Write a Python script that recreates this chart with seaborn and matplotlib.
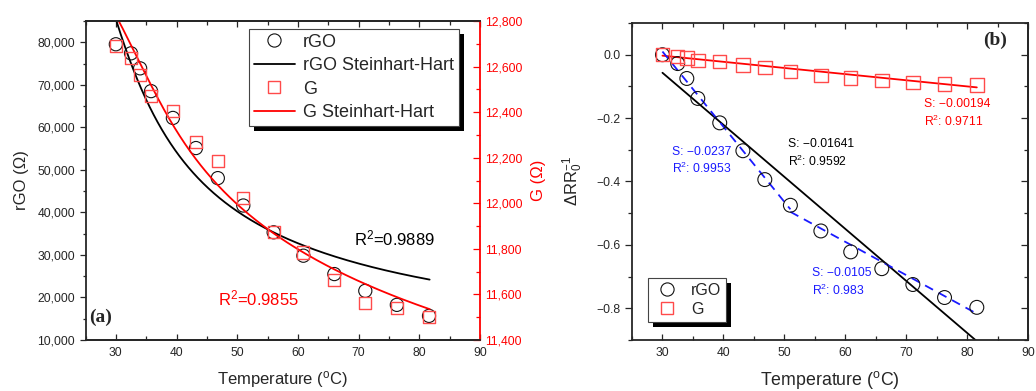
import numpy as np
import pandas as pd
import matplotlib
matplotlib.use("Agg")
import matplotlib.pyplot as plt
import seaborn as sns
from matplotlib.lines import Line2D
from matplotlib.patches import Rectangle
from matplotlib.ticker import MultipleLocator, FuncFormatter

# ---------------- data ----------------
temp_c = [30.0, 32.5, 34.0, 35.8, 39.4, 43.2, 46.8, 51.0, 56.0, 60.9, 66.0, 71.1, 76.3, 81.6]
rgo_ohm = [79530, 77400, 73870, 68510, 62210, 55130, 48060, 41620, 35320, 29820, 25500, 21560, 18260, 15670]
g_ohm = [12691, 12636, 12562, 12471, 12405, 12269, 12185, 12022, 11872, 11784, 11664, 11564, 11542, 11502]
rgo_drr0 = [0.0, -0.028, -0.075, -0.138, -0.215, -0.303, -0.394, -0.475, -0.556, -0.622, -0.675, -0.725, -0.766, -0.797]
g_drr0 = [0.0, -0.005, -0.010, -0.019, -0.022, -0.032, -0.040, -0.053, -0.066, -0.073, -0.081, -0.087, -0.092, -0.095]

# Steinhart-Hart type fits: 1/T[K] = sum c_k (ln R - ref)^k
rgo_sh_coef = [3.130666e-3, 0.351854e-3, -0.210735e-3, 0.09902e-3]
rgo_sh_ref = 10.7
rgo_sh_range = [24200, 86000]
g_sh_coef = [3.128464e-3, 4.077124e-3, -39.33166e-3, 323.24e-3]
g_sh_ref = 9.4
g_sh_range = [11535, 12810]

# linear fits in (b): slope, intercept, x start, x end
g_fit = [-0.00194, 0.0552, 30.0, 81.6]
rgo_fit = [-0.01641, 0.4353, 30.0, 81.6]
rgo_fit_lo = [-0.0237, 0.721, 30.0, 51.0]
rgo_fit_hi = [-0.0105, 0.0398, 51.0, 81.6]

r2_labels_a = ["R$^{\\mathregular{2}}$=0.9889", "R$^{\\mathregular{2}}$=0.9855"]

# ---------------- style ----------------
sns.set_style("ticks")
plt.rcParams["font.family"] = ["Liberation Sans", "DejaVu Sans"]
plt.rcParams["mathtext.fontset"] = "custom"
plt.rcParams["mathtext.rm"] = "Liberation Sans"
plt.rcParams["mathtext.it"] = "Liberation Sans:italic"
plt.rcParams["axes.linewidth"] = 1.3

RED = "#ff0000"
SQ = "#ff4a4a"
BLUE = "#1a1aff"

W, H = 1036, 391
fig = plt.figure(figsize=(W / 100, H / 100), dpi=100)
ax1 = fig.add_axes([85.5 / W, 1 - 340 / H, (480 - 85.5) / W, (340 - 21) / H])
ax1r = ax1.twinx()
ax2 = fig.add_axes([632 / W, 1 - 340 / H, (1028 - 632) / W, (340 - 23) / H])


def sh_curve(coef, ref, rng):
    r = np.geomspace(rng[0], rng[1], 400)
    u = np.log(r) - ref
    inv_t = sum(c * u ** k for k, c in enumerate(coef))
    return 1.0 / inv_t - 273.15, r


# ---------------- panel (a) ----------------
ta, ra = sh_curve(rgo_sh_coef, rgo_sh_ref, rgo_sh_range)
tg, rg = sh_curve(g_sh_coef, g_sh_ref, g_sh_range)
sns.lineplot(x=ta, y=ra, ax=ax1, color="black", lw=1.3, sort=False, estimator=None)
sns.scatterplot(x=temp_c, y=rgo_ohm, ax=ax1, marker="o", s=90, facecolor="none",
                edgecolor="#111111", linewidth=0.8, zorder=3)
sns.lineplot(x=tg, y=rg, ax=ax1r, color=RED, lw=1.3, sort=False, estimator=None)
sns.scatterplot(x=temp_c, y=g_ohm, ax=ax1r, marker="s", s=75, facecolor="none",
                edgecolor=SQ, linewidth=1.0, zorder=3)

ax1.set_xlim(25, 90)
ax1.set_ylim(10000, 85000)
ax1r.set_ylim(11400, 12800)
ax1.xaxis.set_major_locator(MultipleLocator(10))
ax1.xaxis.set_minor_locator(MultipleLocator(5))
ax1.yaxis.set_major_locator(MultipleLocator(10000))
ax1.yaxis.set_minor_locator(MultipleLocator(5000))
ax1r.yaxis.set_major_locator(MultipleLocator(200))
ax1r.yaxis.set_minor_locator(MultipleLocator(100))
comma = FuncFormatter(lambda v, p: f"{v:,.0f}")
ax1.yaxis.set_major_formatter(comma)
ax1r.yaxis.set_major_formatter(comma)

ax1.tick_params(axis="x", which="both", direction="in", top=True, labelsize=8.7, width=0.9, pad=5)
ax1.tick_params(axis="x", which="major", length=4)
ax1.tick_params(axis="x", which="minor", length=3)
ax1.tick_params(axis="y", which="both", direction="out", labelsize=8.7, width=0.9, right=False)
ax1.tick_params(axis="y", which="major", length=4)
ax1.tick_params(axis="y", which="minor", length=2.5)
ax1r.tick_params(axis="y", which="both", direction="in", colors=RED, labelsize=8.7, width=0.9)
ax1r.tick_params(axis="y", which="major", length=5)
ax1r.tick_params(axis="y", which="minor", length=3)
ax1r.spines["right"].set_color(RED)
ax1.spines["right"].set_visible(False)
ax1r.spines["left"].set_visible(False)

ax1.set_xlabel("Temperature ($^{\\mathregular{o}}$C)", fontsize=12, labelpad=7)
ax1.set_ylabel("rGO (\u03a9)", fontsize=12, labelpad=6)
ax1r.set_ylabel("G (\u03a9)", fontsize=12, color=RED, labelpad=6)

ax1.text(69.2, 33830, r2_labels_a[0], fontsize=12, color="black", va="center", ha="left")
ax1.text(46.9, 19700, r2_labels_a[1], fontsize=12, color=RED, va="center", ha="left")
ax1.text(0.009, 0.072, "(a)", transform=ax1.transAxes, fontsize=14, fontweight="bold",
         family="Liberation Serif", va="center", ha="left")

handles_a = [
    Line2D([], [], marker="o", ls="none", mfc="none", mec="#111111", ms=9.5, mew=0.8),
    Line2D([], [], color="black", lw=1.3),
    Line2D([], [], marker="s", ls="none", mfc="none", mec=SQ, ms=9, mew=1.0),
    Line2D([], [], color=RED, lw=1.3),
]
leg_a = ax1r.legend(handles_a, ["rGO", "rGO Steinhart-Hart", "G", "G Steinhart-Hart"],
                    loc="upper left", bbox_to_anchor=(249 / W, 1 - 29 / H),
                    bbox_transform=fig.transFigure, borderaxespad=0, fontsize=13,
                    frameon=True, fancybox=False, framealpha=1, edgecolor="#444444",
                    handlelength=2.3, handletextpad=0.45, labelspacing=0.36, borderpad=0.25)
leg_a.get_frame().set_linewidth(0.8)

# ---------------- panel (b) ----------------
sns.scatterplot(x=temp_c, y=rgo_drr0, ax=ax2, marker="o", s=100, facecolor="none",
                edgecolor="#111111", linewidth=0.8, zorder=3)
sns.scatterplot(x=temp_c, y=g_drr0, ax=ax2, marker="s", s=95, facecolor="none",
                edgecolor=SQ, linewidth=1.0, zorder=3)


def lin(fit):
    x = np.linspace(fit[2], fit[3], 50)
    return x, fit[0] * x + fit[1]


x, y = lin(rgo_fit)
sns.lineplot(x=x, y=y, ax=ax2, color="black", lw=1.3, sort=False, estimator=None)
x, y = lin(g_fit)
sns.lineplot(x=x, y=y, ax=ax2, color=RED, lw=1.3, sort=False, estimator=None)
for f in (rgo_fit_lo, rgo_fit_hi):
    x, y = lin(f)
    sns.lineplot(x=x, y=y, ax=ax2, color=BLUE, lw=1.3, sort=False, estimator=None,
                 dashes=False, linestyle=(0, (5, 3.5)))

ax2.set_xlim(25, 90)
ax2.set_ylim(-0.9, 0.1)
ax2.xaxis.set_major_locator(MultipleLocator(10))
ax2.xaxis.set_minor_locator(MultipleLocator(5))
ax2.yaxis.set_major_locator(MultipleLocator(0.2))
ax2.yaxis.set_minor_locator(MultipleLocator(0.1))
ax2.yaxis.set_major_formatter(FuncFormatter(lambda v, p: f"{v:.1f}".replace("-", "\u2212") if abs(v) > 1e-9 else "0.0"))
ax2.tick_params(axis="x", which="both", direction="in", top=True, labelsize=8.7, width=0.9, pad=5)
ax2.tick_params(axis="x", which="major", length=4)
ax2.tick_params(axis="x", which="minor", length=3)
ax2.tick_params(axis="y", which="both", direction="out", labelsize=8.7, width=0.9)
ax2.tick_params(axis="y", which="major", length=5)
ax2.tick_params(axis="y", which="minor", length=3)
ax2r = ax2.secondary_yaxis("right")
ax2r.yaxis.set_major_locator(MultipleLocator(0.2))
ax2r.yaxis.set_minor_locator(MultipleLocator(0.1))
ax2r.tick_params(axis="y", which="both", direction="in", labelright=False, width=0.9)
ax2r.tick_params(axis="y", which="major", length=5)
ax2r.tick_params(axis="y", which="minor", length=3)

ax2.set_xlabel("Temperature ($^{\\mathregular{o}}$C)", fontsize=12.8, labelpad=7)
ax2.set_ylabel("\u0394RR$_{\\mathregular{0}}^{\\mathregular{-1}}$", fontsize=12, labelpad=8)

fs = 8.7
ax2.text(72.9, -0.156, "S: \u22120.00194", color=RED, fontsize=fs, va="center")
ax2.text(72.9, -0.209, "R$^{\\mathregular{2}}$: 0.9711", color=RED, fontsize=fs, va="center")
ax2.text(50.6, -0.281, "S: \u22120.01641", color="black", fontsize=fs, va="center")
ax2.text(50.6, -0.337, "R$^{\\mathregular{2}}$: 0.9592", color="black", fontsize=fs, va="center")
ax2.text(31.5, -0.307, "S: \u22120.0237", color=BLUE, fontsize=fs, va="center")
ax2.text(31.5, -0.360, "R$^{\\mathregular{2}}$: 0.9953", color=BLUE, fontsize=fs, va="center")
ax2.text(54.5, -0.690, "S: \u22120.0105", color=BLUE, fontsize=fs, va="center")
ax2.text(54.5, -0.744, "R$^{\\mathregular{2}}$: 0.983", color=BLUE, fontsize=fs, va="center")
ax2.text(0.886, 0.946, "(b)", transform=ax2.transAxes, fontsize=14, fontweight="bold",
         family="Liberation Serif", va="center", ha="left")

handles_b = [
    Line2D([], [], marker="o", ls="none", mfc="none", mec="#111111", ms=9.5, mew=0.8),
    Line2D([], [], marker="s", ls="none", mfc="none", mec=SQ, ms=9, mew=1.0),
]
leg_b = ax2.legend(handles_b, ["rGO", "G"], loc="upper left",
                   bbox_to_anchor=(648 / W, 1 - 278 / H), bbox_transform=fig.transFigure,
                   borderaxespad=0, fontsize=11.5, frameon=True, fancybox=False, framealpha=1,
                   edgecolor="#444444", handlelength=1.8, handletextpad=0.6,
                   labelspacing=0.25, borderpad=0.3)
leg_b.get_frame().set_linewidth(0.8)

# legend drop shadows
fig.canvas.draw()
renderer = fig.canvas.get_renderer()
for leg, ax in ((leg_a, ax1r), (leg_b, ax2)):
    bb = leg.get_window_extent(renderer)
    sh = Rectangle(((bb.x0 + 5) / W, (bb.y0 - 5) / H), bb.width / W, bb.height / H,
                   transform=fig.transFigure, facecolor="black", edgecolor="none",
                   zorder=leg.get_zorder() - 0.1, clip_on=False)
    ax.add_artist(sh)

fig.savefig("out.png", dpi=100)
